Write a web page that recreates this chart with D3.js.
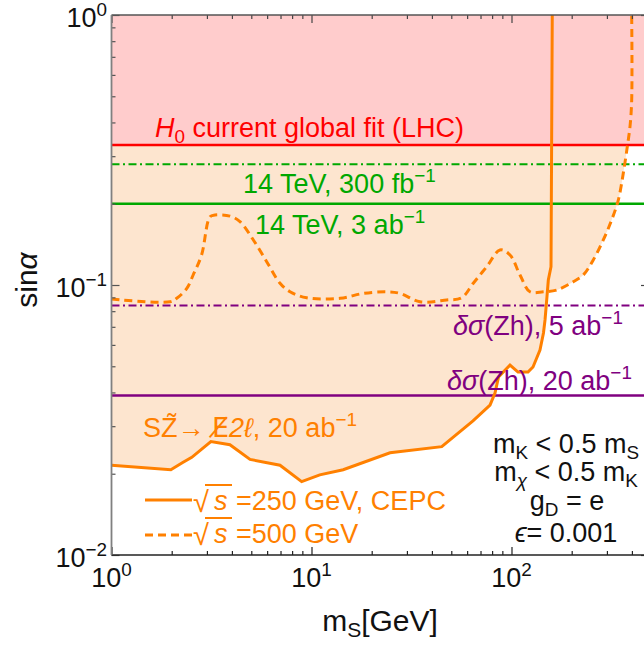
<!DOCTYPE html>
<html><head><meta charset="utf-8">
<script src="https://cdn.jsdelivr.net/npm/d3@7"></script>
<style>body{margin:0;background:#fff} text{font-family:"Liberation Sans",Arial,sans-serif}</style>
</head><body><svg id="c" width="644" height="645"></svg>
<script>
// ---- data ----
const massSolid = [1,1.98,2.27,2.52,3.14,3.91,4.93,6.96,8.93,11.0,14.4,24.7,44.8,64.2,78.1,82.7,86.1,98.3,107.8,120.9,128.1,138.8,144.5,147.1,150,152.8,157.6,159.9];
const sinSolid  = [0.0215,0.0207,0.0220,0.0230,0.0263,0.0256,0.0226,0.0215,0.0187,0.0198,0.0207,0.0239,0.0252,0.0314,0.0359,0.0398,0.0456,0.0505,0.0476,0.0476,0.0497,0.0574,0.0664,0.0742,0.088,0.1043,0.1169,1.0];
const massDashed = [1,1.96,2.12,2.38,2.56,2.82,3.11,3.29,3.91,4.39,5.12,5.97,6.96,7.81,9.46,13.9,18.2,23.8,27.7,34.9,47.4,56.4,64.4,75.2,87.6,98.3,110.3,123.7,144.2,168.3,203.7,228.6,256.4,287.7,316.7,342,362.2,379.3,391.3,399,399];
const sinDashed  = [0.0887,0.0867,0.0893,0.0972,0.1089,0.129,0.179,0.1816,0.180,0.1716,0.1468,0.122,0.1015,0.0944,0.0897,0.0893,0.0931,0.0944,0.0931,0.0867,0.0880,0.0897,0.1015,0.1169,0.1348,0.1292,0.1089,0.0944,0.0944,0.0958,0.1028,0.1089,0.1238,0.1468,0.174,0.2064,0.2593,0.3253,0.386,0.484,1.0];
const refValues = [0.33, 0.28, 0.2, 0.084, 0.039];   // H0 fit, 14TeV 300fb, 14TeV 3ab, dσ 5ab, dσ 20ab
const xMajor = [1, 10, 100];
const xMajorExp = ["0", "1", "2"];
const yMajor = [0.01, 0.1, 1];
const yMajorExp = ["\u22122", "\u22121", "0"];
const xDomain = [1, 487];
const yDomain = [0.01, 1];

// ---- setup ----
const svg = d3.select("#c");
const x = d3.scaleLog().domain(xDomain).range([111.5, 649]);
const y = d3.scaleLog().domain(yDomain).range([555, 15]);
const C = {orange:"#ff8000", red:"#ff0000", green:"#00a800", purple:"#800080", pink:"#ffcccc", peach:"#fde5cf"};

svg.append("defs").append("clipPath").attr("id","pc").append("rect")
  .attr("x",111.5).attr("y",15).attr("width",649-111.5).attr("height",540);
const plot = svg.append("g").attr("clip-path","url(#pc)");

const solid = massSolid.map((m,i)=>({m, s:sinSolid[i]}));
const dashed = massDashed.map((m,i)=>({m, s:sinDashed[i]}));

const areaGen = (curve) => d3.area().x(d=>x(d.m)).y0(y(yDomain[1])).y1(d=>y(d.s)).curve(curve);
const lineGen = (curve) => d3.line().x(d=>x(d.m)).y(d=>y(d.s)).curve(curve);
const smooth = d3.curveCatmullRom.alpha(0.5);

// fills
plot.append("path").datum(dashed).attr("d", areaGen(smooth)).attr("fill", C.peach);
plot.append("path").datum(solid).attr("d", areaGen(d3.curveLinear)).attr("fill", C.peach);
plot.append("rect").attr("x", x(xDomain[0])).attr("y", y(yDomain[1]))
  .attr("width", x(xDomain[1]) - x(xDomain[0])).attr("height", y(refValues[0]) - y(yDomain[1]))
  .attr("fill", C.pink);

// reference lines
const refStyles = [
  {c:C.red, dash:null, w:2.5},
  {c:C.green, dash:"8,3.5,2,3.5", w:2},
  {c:C.green, dash:null, w:2.5},
  {c:C.purple, dash:"8,3.5,2,3.5", w:2},
  {c:C.purple, dash:null, w:2.5}
];
refValues.forEach((v,i)=>{
  plot.append("line").attr("x1", x(xDomain[0])).attr("x2", x(xDomain[1]))
    .attr("y1", y(v)).attr("y2", y(v))
    .attr("stroke", refStyles[i].c).attr("stroke-width", refStyles[i].w)
    .attr("stroke-dasharray", refStyles[i].dash);
});

// curves
plot.append("path").datum(dashed).attr("d", lineGen(smooth)).attr("fill","none")
  .attr("stroke", C.orange).attr("stroke-width", 3).attr("stroke-dasharray","8,5");
plot.append("path").datum(solid).attr("d", lineGen(d3.curveLinear)).attr("fill","none")
  .attr("stroke", C.orange).attr("stroke-width", 3);

// ---- axes / frame ----
const minorX = x.ticks().filter(v => !xMajor.includes(v) && v >= xDomain[0] && v <= xDomain[1]);
const minorY = y.ticks().filter(v => !yMajor.includes(v));
function axis(gen, vals, size, tr, color){
  const g = svg.append("g").attr("transform", tr)
    .call(gen.tickValues(vals).tickSize(size).tickFormat(""));
  g.select(".domain").remove();
  g.selectAll(".tick line").attr("stroke", color).attr("stroke-width", 1.2);
  return g;
}
axis(d3.axisBottom(x), xMajor, -8, "translate(0,555)", "#222");
axis(d3.axisBottom(x), minorX, -4, "translate(0,555)", "#222");
axis(d3.axisTop(x), xMajor, -8, "translate(0,15)", "#444");
axis(d3.axisTop(x), minorX, -4, "translate(0,15)", "#444");
axis(d3.axisLeft(y), yMajor, -8, "translate(111.5,0)", "#555");
axis(d3.axisLeft(y), minorY, -4, "translate(111.5,0)", "#555");
axis(d3.axisRight(y), yMajor, -8, "translate(649,0)", "#444");
axis(d3.axisRight(y), minorY, -4, "translate(649,0)", "#444");
svg.append("line").attr("x1",111.5).attr("x2",649).attr("y1",555).attr("y2",555).attr("stroke","#222").attr("stroke-width",1.5);
svg.append("line").attr("x1",111.5).attr("x2",649).attr("y1",15).attr("y2",15).attr("stroke","#555").attr("stroke-width",1.5);
svg.append("line").attr("x1",111.5).attr("x2",111.5).attr("y1",15).attr("y2",555).attr("stroke","#808080").attr("stroke-width",1.8);

// tick labels
const FS = 27;
xMajor.forEach((v,i)=>{
  const t = svg.append("text").attr("x", x(v)).attr("y", 587).attr("text-anchor","middle").attr("font-size",FS).attr("fill","#111");
  t.append("tspan").text("10");
  t.append("tspan").attr("font-size",FS*0.7).attr("dy",-11).text(xMajorExp[i]);
});
yMajor.forEach((v,i)=>{
  const t = svg.append("text").attr("x", 107).attr("y", y(v)+12).attr("text-anchor","end").attr("font-size",FS).attr("fill","#111");
  t.append("tspan").text("10");
  t.append("tspan").attr("font-size",FS*0.7).attr("dy",-11).text(yMajorExp[i]);
});

// axis titles
const yt = svg.append("text").attr("transform","translate(37,280) rotate(-90)").attr("text-anchor","middle").attr("font-size",30).attr("fill","#111");
yt.append("tspan").text("sin");
yt.append("tspan").attr("font-style","italic").text("\u03b1");
const xt = svg.append("text").attr("x",380).attr("y",631).attr("text-anchor","middle").attr("font-size",30).attr("fill","#111");
xt.append("tspan").text("m");
xt.append("tspan").attr("font-size",21).attr("dy",6).text("S");
xt.append("tspan").attr("dy",-6).text("[GeV]");

// ---- labels ----
function label(xp, yp, color, parts, anchor){
  const t = svg.append("text").attr("x",xp).attr("y",yp).attr("fill",color).attr("font-size",FS).attr("text-anchor",anchor||"start");
  parts.forEach(p=>{
    const s = t.append("tspan").text(p.t);
    if(p.i) s.attr("font-style","italic");
    if(p.f) s.attr("font-family",p.f);
    if(p.sub){ s.attr("font-size",FS*0.7).attr("dy",6); }
    if(p.sup){ s.attr("font-size",FS*0.7).attr("dy",-11); }
    if(p.dy) s.attr("dy",p.dy);
  });
  return t;
}
label(155,137,C.red,[{t:"H",i:1},{t:"0",sub:1},{t:" current global fit (LHC)",dy:-6}]);
label(243,193,C.green,[{t:"14 TeV, 300 fb"},{t:"\u22121",sup:1}]);
label(255,234,C.green,[{t:"14 TeV, 3 ab"},{t:"\u22121",sup:1}]);
label(453,335,C.purple,[{t:"\u03b4\u03c3",i:1},{t:"(Zh), 5 ab"},{t:"\u22121",sup:1}]);
label(447,390,C.purple,[{t:"\u03b4\u03c3",i:1},{t:"(Zh), 20 ab"},{t:"\u22121",sup:1}]);
label(143,437,C.orange,[{t:"SZ\u0303\u2192 "},{t:"E\u0338",f:"DejaVu Sans"},{t:"2\u2113",i:1},{t:", 20 ab"},{t:"\u22121",sup:1}]);

// legend
svg.append("line").attr("x1",145).attr("x2",192).attr("y1",500).attr("y2",500).attr("stroke",C.orange).attr("stroke-width",3);
svg.append("line").attr("x1",145).attr("x2",192).attr("y1",535).attr("y2",535).attr("stroke",C.orange).attr("stroke-width",3).attr("stroke-dasharray","8,5");
[[510,"=250 GeV, CEPC"],[543,"=500 GeV"]].forEach(([by,txt])=>{
  svg.append("text").attr("x",193).attr("y",by+2).attr("font-size",29).attr("fill",C.orange).text("\u221a");
  svg.append("line").attr("x1",205).attr("x2",232).attr("y1",by-25).attr("y2",by-25).attr("stroke",C.orange).attr("stroke-width",2);
  const t = svg.append("text").attr("x",214).attr("y",by).attr("font-size",FS).attr("fill",C.orange);
  t.append("tspan").attr("font-style","italic").text("s");
  t.append("tspan").attr("x",236).text(txt);
});

// right block
label(566,453,"#111",[{t:"m"},{t:"K",sub:1},{t:" < 0.5 m",dy:-6},{t:"S",sub:1}],"middle");
label(566,481,"#111",[{t:"m"},{t:"\u03c7",sub:1,i:1},{t:" < 0.5 m",dy:-6},{t:"K",sub:1}],"middle");
label(567,510,"#111",[{t:"g"},{t:"D",sub:1},{t:" = e",dy:-6}],"middle");
label(566,542,"#111",[{t:"\u03f5",i:1},{t:"= 0.001"}],"middle");
</script></body></html>
